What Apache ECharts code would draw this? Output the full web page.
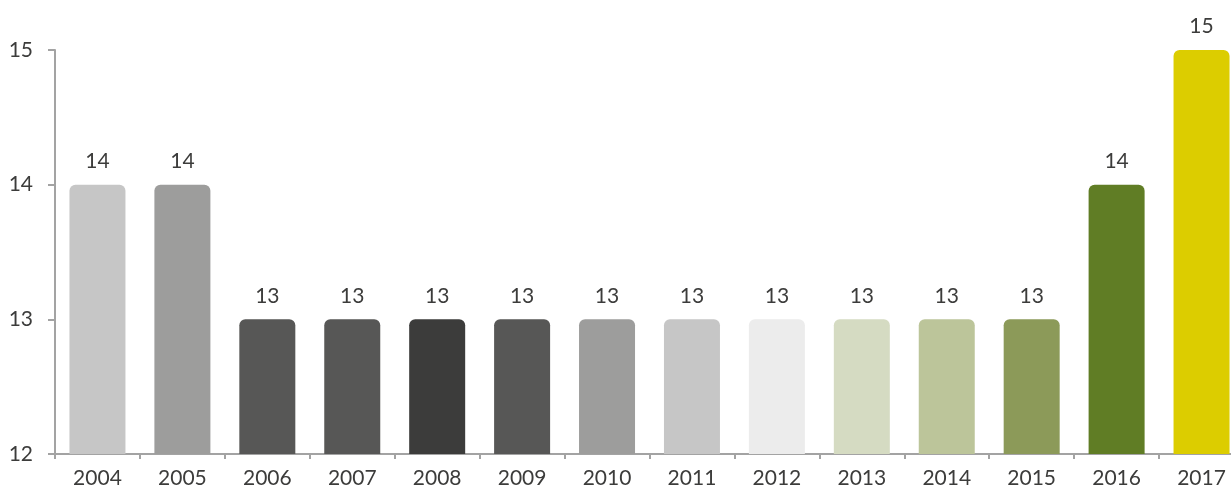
<!DOCTYPE html>
<html><head><meta charset="utf-8">
<script src="https://cdn.jsdelivr.net/npm/echarts@6/dist/echarts.min.js"></script>
<style>html,body{margin:0;padding:0;background:#fff}#c{width:1231px;height:491px}</style>
</head><body><div id="c"></div>
<script>
const years = ['2004','2005','2006','2007','2008','2009','2010','2011','2012','2013','2014','2015','2016','2017'];
const values = [14,14,13,13,13,13,13,13,13,13,13,13,14,15];
const colors = ['#c6c6c6','#9d9d9c','#575756','#575756','#3c3c3b','#575756','#9d9d9c','#c6c6c6','#ececec','#d5dbc2','#bcc59a','#8c9a59','#607d25','#dccd00'];
const yTicks = [12,13,14,15];

const chart = echarts.init(document.getElementById('c'));
chart.setOption({
  animation:false,
  grid:{left:55, top:50, width:1189, height:404, containLabel:false, outerBoundsMode:'none'},
  xAxis:{type:'category', data:years,
    axisLine:{lineStyle:{color:'#a3a3a3', width:2}},
    axisTick:{show:true, length:5, lineStyle:{color:'#a3a3a3', width:2}},
    axisLabel:{color:'#3c3c3b', fontSize:21, fontFamily:'Lato', margin:14}},
  yAxis:{type:'value', min:yTicks[0], max:yTicks[yTicks.length-1], interval:1,
    splitLine:{show:false},
    axisLine:{show:true, lineStyle:{color:'#a3a3a3', width:2}},
    axisTick:{show:true, length:7, lineStyle:{color:'#a3a3a3', width:2}},
    axisLabel:{color:'#3c3c3b', fontSize:21, fontFamily:'Lato', margin:22, align:'right'}},
  series:[{type:'bar', barWidth:56,
    data: values.map((v,i)=>({value:v, itemStyle:{color:colors[i]}})),
    itemStyle:{borderRadius:[6,6,0,0]},
    label:{show:true, position:'top', distance:13, color:'#3c3c3b', fontSize:21, fontFamily:'Lato'}
  }]
});
</script></body></html>
